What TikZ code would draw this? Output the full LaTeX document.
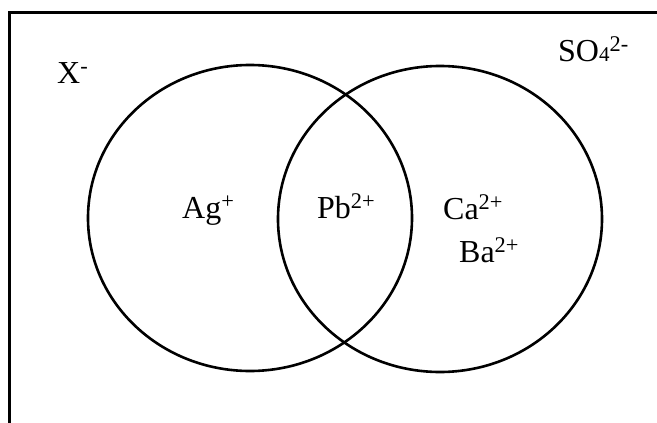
\documentclass[tikz,border=0pt]{standalone}
\usepackage{fontspec}
\setmainfont{Liberation Serif}
\usetikzlibrary{shapes.geometric}

\begin{document}
\begin{tikzpicture}[x=1pt, y=-1pt,
  set/.style={draw, ellipse, line width=2.6pt, minimum width=324pt, minimum height=306pt, inner sep=0pt},
  ion/.style={anchor=base west, inner sep=0pt, font=\fontsize{32}{38}\selectfont}]
  \useasboundingbox (0,0) rectangle (657,423);
  % frame, only its top and left sides are in view
  \coordinate (corner) at (9.5,12.5);
  \draw[line width=2.8pt] (680,12.5) -- (corner) -- (9.5,440);

  % the two sets
  \node[set] (halide) at (250,218) {};
  \node[set] (sulfate) at (440,219) {};

  % ions
  \node[ion] (xion) at (57,83) {X\textsuperscript{-}};
  \node[ion] (so4) at (558,61) {SO{\fontsize{21}{24}\selectfont 4}\textsuperscript{2-}};
  \node[ion] (ag) at (182,218) {Ag\textsuperscript{+}};
  \node[ion] (pb) at (317,218) {Pb\textsuperscript{2+}};
  \node[ion] (ca) at (443,219) {Ca\textsuperscript{2+}};
  \node[ion] (ba) at (459,262) {Ba\textsuperscript{2+}};
\end{tikzpicture}
\end{document}
